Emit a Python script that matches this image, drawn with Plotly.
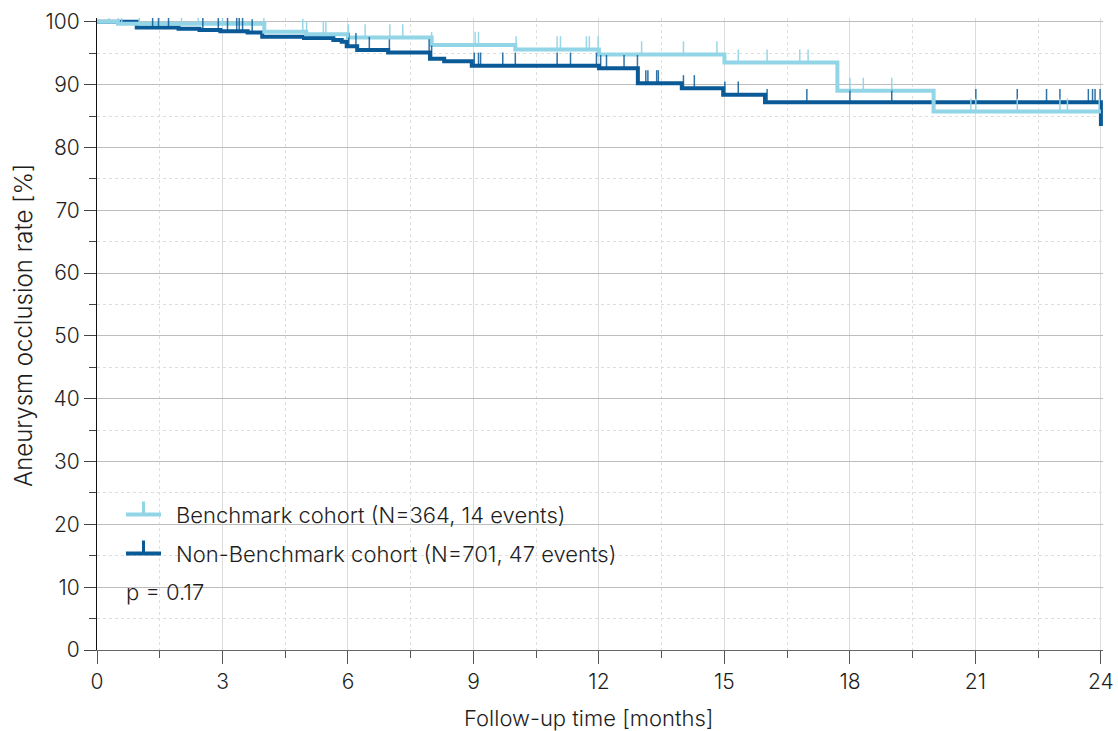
import plotly.graph_objects as go

# ---------------- data ----------------
bench_time = [0, 0.5, 4.0, 5.0, 6.0, 8.0, 10.0, 12.0, 15.0, 17.7, 20.0, 24.0]
bench_surv = [100, 99.7, 98.4, 98.0, 97.5, 96.3, 95.6, 94.8, 93.5, 89.0, 85.7, 85.7]
bench_censor = [0.29, 0.51, 0.59, 1.01, 2.02, 2.42, 3.0, 3.99, 4.92, 5.01, 5.41, 5.47,
                6.01, 6.41, 7.0, 7.31, 8.0, 9.04, 9.12, 10.02, 11.0, 11.08, 11.7, 11.77,
                11.98, 13.02, 14.02, 14.82, 15.33, 16.02, 16.8, 17.0, 18.0, 18.32, 19.0,
                20.89, 21.01, 22.0, 23.02, 23.2, 23.96]

non_time = [0, 0.95, 1.95, 2.45, 2.95, 3.6, 3.95, 4.95, 5.65, 5.85, 5.97, 6.22, 6.96,
            7.96, 8.3, 8.96, 12.0, 12.93, 13.98, 14.97, 15.97, 24.0]
non_surv = [100, 99.1, 98.9, 98.7, 98.5, 98.3, 97.6, 97.4, 97.1, 96.8, 96.1, 95.5, 95.1,
            94.1, 93.7, 93.0, 92.6, 90.2, 89.4, 88.4, 87.2, 83.4]
non_censor = [1.33, 1.47, 1.71, 2.53, 2.9, 3.12, 3.34, 3.40, 3.48, 3.71, 6.02, 6.19,
              6.51, 6.99, 7.94, 8.0, 9.02, 9.12, 9.17, 9.7, 10.0, 11.0, 11.32, 11.94,
              12.04, 12.18, 12.6, 12.92, 13.12, 13.17, 13.38, 13.42, 14.02, 14.28,
              15.01, 15.33, 16.02, 16.97, 18.0, 19.0, 21.01, 22.0, 22.7, 23.02, 23.7,
              23.8, 23.86, 23.98]

bench_label = "Benchmark cohort (N=364, 14 events)"
non_label = "Non-Benchmark cohort (N=701, 47 events)"
p_label = "p = 0.17"
x_title = "Follow-up time [months]"
y_title = "Aneurysm occlusion rate [%]"
x_ticks = [0, 3, 6, 9, 12, 15, 18, 21, 24]
y_ticks = [0, 10, 20, 30, 40, 50, 60, 70, 80, 90, 100]

LIGHT = "#92d5e6"
DARK = "#0b5a98"
FONT = "Inter"
FW = 300
TXT = "#1e1e1e"
FS = 21


def step_value(times, surv, t):
    v = surv[0]
    for ti, si in zip(times, surv):
        if ti <= t:
            v = si
        else:
            break
    return v


def fnt(size=FS):
    return dict(family=FONT, size=size, color=TXT, weight=FW)


fig = go.Figure()


def add_curve(times, surv, color, name):
    fig.add_trace(go.Scatter(x=times, y=surv, mode="lines", name=name,
                             line=dict(color=color, width=4, shape="hv"),
                             showlegend=False, hoverinfo="skip"))


def add_censor(times, surv, cens, color, name):
    ys = [step_value(times, surv, t) for t in cens]
    fig.add_trace(go.Scatter(x=cens, y=ys, mode="markers", name=name,
                             marker=dict(size=1, color="rgba(0,0,0,0)"),
                             error_y=dict(type="constant", symmetric=False, value=2.1,
                                          valueminus=0, width=0, thickness=1.5,
                                          color=color),
                             cliponaxis=False, showlegend=False, hoverinfo="skip"))


add_curve(non_time, non_surv, DARK, non_label)
add_curve(bench_time, bench_surv, LIGHT, bench_label)
add_censor(non_time, non_surv, non_censor, "rgba(11,90,152,0.85)", non_label + " censored")
add_censor(bench_time, bench_surv, bench_censor, "rgba(146,213,230,0.95)", bench_label + " censored")

# ---------------- manual legend ----------------
W_PLOT = 1006.0
H_PLOT = 632.0
L, T = 97.0, 18.0


def px(xp):
    return (xp - L) / W_PLOT


def py(yp):
    return (T + H_PLOT - yp) / H_PLOT


for color, yline, label in [(LIGHT, 514.5, bench_label), (DARK, 553.5, non_label)]:
    fig.add_shape(type="line", xref="paper", yref="paper", x0=px(126), x1=px(161),
                  y0=py(yline), y1=py(yline), line=dict(color=color, width=4))
    fig.add_shape(type="line", xref="paper", yref="paper", x0=px(143.5), x1=px(143.5),
                  y0=py(yline), y1=py(yline - 13), line=dict(color=color, width=3))
    fig.add_annotation(xref="paper", yref="paper", x=px(174), y=py(yline), text=label,
                       showarrow=False, xanchor="left", yanchor="middle", font=fnt(22))

fig.add_annotation(xref="paper", yref="paper", x=px(124), y=py(592), text=p_label,
                   showarrow=False, xanchor="left", yanchor="middle", font=fnt(22))

# axis titles (placed where the reference puts them)
fig.add_annotation(xref="paper", yref="paper", x=px(588.5), y=py(718), text=x_title,
                   showarrow=False, xanchor="center", yanchor="middle", font=fnt(22))
fig.add_annotation(xref="paper", yref="paper", x=px(23), y=py(326), text=y_title,
                   textangle=-90, showarrow=False, xanchor="center", yanchor="middle",
                   font=fnt(24))

fig.update_layout(
    width=1118, height=731, autosize=False,
    margin=dict(l=97, r=15, t=18, b=81, autoexpand=False),
    paper_bgcolor="white", plot_bgcolor="white",
    font=fnt(),
    showlegend=False,
)

fig.update_xaxes(
    automargin=False,
    range=[0, 24.05], tickmode="array", tickvals=x_ticks, ticktext=[str(v) for v in x_ticks],
    ticks="outside", ticklen=13, tickwidth=1, tickcolor="#555555",
    showline=True, linecolor="#666666", linewidth=1, zeroline=False,
    showgrid=True, gridcolor="#dcdcdc", gridwidth=1,
    minor=dict(dtick=1.5, tick0=0, ticks="outside", ticklen=7, tickcolor="#555555",
               showgrid=True, gridcolor="#dedede", griddash="dot"),
    tickfont=fnt(),
)
fig.update_yaxes(
    automargin=False,
    range=[0, 100.6], tickmode="array", tickvals=y_ticks, ticktext=[str(v) for v in y_ticks],
    ticks="outside", ticklen=12, tickwidth=1, tickcolor="#444444",
    showline=True, linecolor="#111111", linewidth=1, zeroline=False,
    showgrid=True, gridcolor="#bdbdbd", gridwidth=1,
    minor=dict(dtick=5, tick0=0, ticks="outside", ticklen=7, tickcolor="#444444",
               showgrid=True, gridcolor="#dedede", griddash="dot"),
    tickfont=fnt(),
)

fig.write_html("out.html")
